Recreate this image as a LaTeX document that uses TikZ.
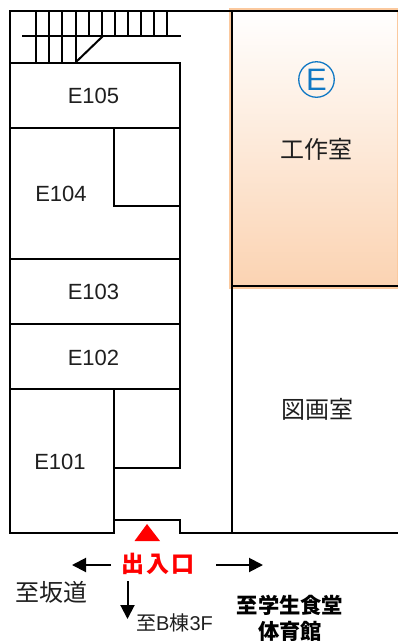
\documentclass[tikz,border=0pt]{standalone}
\usepackage{fontspec}
\setmainfont{Liberation Sans}
\newfontfamily\cjk{Noto Sans CJK JP}
\usetikzlibrary{arrows.meta}
\definecolor{peach}{HTML}{FBD3B2}
\definecolor{edgeor}{HTML}{FBC99E}
\definecolor{eblue}{HTML}{1078C4}
\tikzset{
  wall/.style={line width=2pt,black,line cap=rect},
  thinwall/.style={line width=2pt,black},
  room/.style={inner sep=0pt,font=\fontsize{22}{22}\selectfont,text=black!88},
  cjklabel/.style={inner sep=0pt,font=\cjk\fontsize{24}{24}\selectfont,text=black!88},
  boldlabel/.style={inner sep=0pt,font=\cjk\bfseries\fontsize{21.3}{22}\selectfont},
  way/.style={line width=2pt,-{Triangle[length=14pt,width=14pt]}},
}
\begin{document}
\begin{tikzpicture}[x=1pt,y=-1pt]
\useasboundingbox (0,0) rectangle (398,641);
% workshop room
\shade[top color=white,bottom color=peach] (231,10) rectangle (397,286);
\draw[edgeor,line width=3pt] (398,9) -- (230.5,9) -- (230.5,287.5) -- (398,287.5);
\draw[edgeor,line width=1pt] (397.5,9) -- (397.5,287);
% stairs
\foreach \x in {36,49,62,76,89,102,115,128,141,154,167}
  \draw[thinwall] (\x,10) -- (\x,36);
\foreach \x in {36,49,62,76}
  \draw[thinwall] (\x,36) -- (\x,62);
\draw[thinwall] (22,36) -- (181,36);
\draw[thinwall] (76,62) -- (103,36);
% outer walls
\draw[wall] (398,10.5) -- (10,10.5) -- (10,533) -- (114,533) -- (114,520) -- (180,520) -- (180,533) -- (398,533);
\draw[wall] (232,10.5) -- (232,533);
\draw[wall] (232,286) -- (398,286);
% rooms
\draw[wall] (10,62.5) -- (180,62.5) -- (180,467.5) -- (114,467.5);
\draw[wall] (10,127.5) -- (180,127.5);
\draw[wall] (114,127.5) -- (114,206) -- (180,206);
\draw[wall] (10,258.5) -- (180,258.5);
\draw[wall] (10,323.5) -- (180,323.5);
\draw[wall] (10,389) -- (180,389);
\draw[wall] (114,389) -- (114,533);
% labels
\node[room] (e105) at (93.5,96) {E105};
\node[room] (e104) at (61,194) {E104};
\node[room] (e103) at (93.5,292) {E103};
\node[room] (e102) at (93.5,358) {E102};
\node[room] (e101) at (60,462) {E101};
\node[cjklabel] (work) at (316.5,149) {工作室};
\node[cjklabel] (draw) at (317,409) {図画室};
\node[circle,draw=eblue,line width=1.3pt,minimum size=35.5pt,inner sep=0pt,text=eblue,font=\fontsize{31}{31}\selectfont] (ebadge) at (316.5,79.5) {E};
% entrance
\fill[red] (134.5,541) -- (147,524) -- (160,541) -- cycle;
\node[inner sep=0pt,text=red,font=\cjk\bfseries\fontsize{23}{23}\selectfont] (entry) at (158,564) {出\hspace{2.5pt}入\hspace{2.5pt}口};
\coordinate (wl) at (72,565);
\coordinate (wr) at (263,565);
\coordinate (wd) at (127.5,619);
\coordinate (sl) at (111,565);
\coordinate (sr) at (216,565);
\coordinate (sd) at (127.5,581);
\draw[way] (sl) -- (wl);
\draw[way] (sr) -- (wr);
\draw[way] (sd) -- (wd);
\node[cjklabel] (saka) at (51.5,592) {至坂道};
\node[inner sep=0pt,anchor=west,text=black!88,font=\fontsize{20}{20}\selectfont] (b3f) at (136,623) {{\cjk 至}B{\cjk 棟}3F};
\node[boldlabel] (canteen) at (290,605) {至学生食堂};
\node[boldlabel] (gym) at (290,631) {体育館};
\end{tikzpicture}
\end{document}
